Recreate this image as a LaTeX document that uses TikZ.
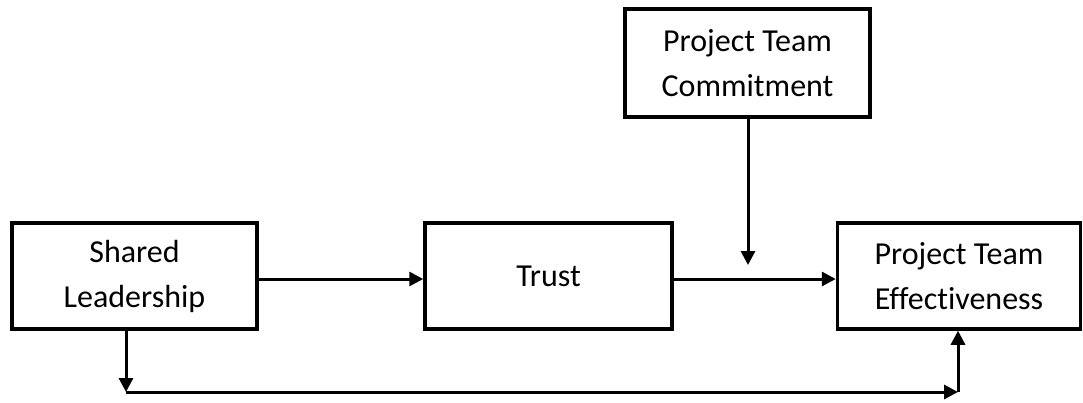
\documentclass[tikz,border=0pt]{standalone}
\usepackage{fontspec}
\setmainfont{Carlito}[Ligatures=NoCommon]
\usetikzlibrary{arrows.meta}
\begin{document}
\begin{tikzpicture}[x=1pt,y=-1pt,
  box/.style={draw,line width=3.5pt,minimum width=245pt,minimum height=106pt,align=center,inner sep=0pt,font=\fontsize{32}{45}\selectfont},
  arr/.style={line width=3pt,-{Triangle[length=14pt,width=14pt]}},
  ln/.style={line width=3pt}]
\useasboundingbox (0,0) rectangle (1083,402);
\node[box] (SL) at (134.5,276) {Shared\\Leadership};
\node[box,minimum width=247pt] (TR) at (548.5,276) {Trust};
\node[box,minimum width=243pt] (PTE) at (959,276) {Project Team\\Effectiveness};
\node[box,minimum height=108pt] (PTC) at (747.5,63) {Project Team\\Commitment};
\coordinate (mod) at (748,265);
\coordinate (bl) at (126,392);
\coordinate (br) at (958,392);
\draw[arr] ([yshift=-3pt]SL.east) -- ([yshift=-3pt]TR.west);
\draw[arr] ([yshift=-3pt]TR.east) -- ([yshift=-3pt]PTE.west);
\draw[arr] (PTC.south -| mod) -- (mod);
\draw[arr] (SL.south -| bl) -- (bl);
\draw[arr] (bl) -- (br);
\draw[arr] (br) -- (PTE.south -| br);
\end{tikzpicture}
\end{document}
